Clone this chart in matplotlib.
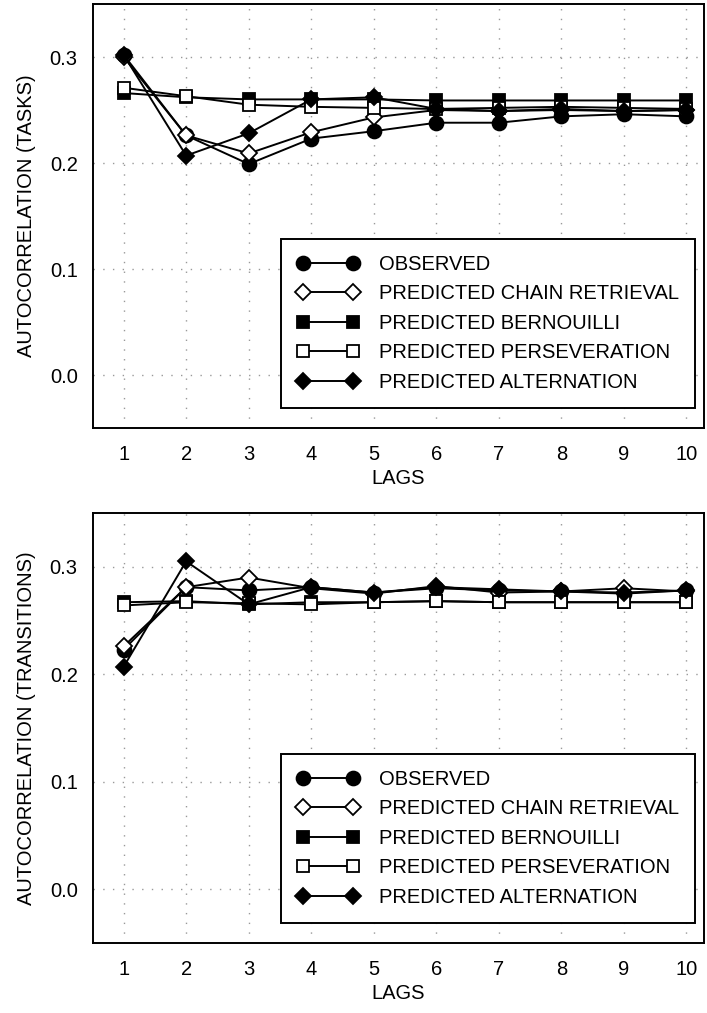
import matplotlib
matplotlib.use("Agg")
import matplotlib.pyplot as plt

plt.rcParams['font.family'] = ['Liberation Sans', 'DejaVu Sans']

lags = [1, 2, 3, 4, 5, 6, 7, 8, 9, 10]
series_names = ["OBSERVED", "PREDICTED CHAIN RETRIEVAL", "PREDICTED BERNOUILLI",
                "PREDICTED PERSEVERATION", "PREDICTED ALTERNATION"]

# Autocorrelation (tasks)
tasks_observed = [0.302, 0.226, 0.199, 0.223, 0.230, 0.238, 0.238, 0.244, 0.246, 0.244]
tasks_chain = [0.300, 0.226, 0.209, 0.229, 0.243, 0.250, 0.249, 0.250, 0.249, 0.250]
tasks_bernoulli = [0.266, 0.262, 0.260, 0.260, 0.260, 0.259, 0.259, 0.259, 0.259, 0.259]
tasks_perseveration = [0.271, 0.263, 0.255, 0.253, 0.252, 0.251, 0.252, 0.253, 0.252, 0.251]
tasks_alternation = [0.302, 0.207, 0.228, 0.260, 0.262, 0.251, 0.249, 0.251, 0.249, 0.250]

# Autocorrelation (transitions)
trans_observed = [0.223, 0.281, 0.278, 0.281, 0.276, 0.280, 0.278, 0.277, 0.275, 0.278]
trans_chain = [0.226, 0.281, 0.290, 0.280, 0.275, 0.282, 0.276, 0.277, 0.280, 0.277]
trans_bernoulli = [0.267, 0.268, 0.265, 0.267, 0.267, 0.268, 0.267, 0.267, 0.267, 0.267]
trans_perseveration = [0.264, 0.267, 0.266, 0.265, 0.267, 0.268, 0.267, 0.267, 0.267, 0.267]
trans_alternation = [0.207, 0.305, 0.265, 0.281, 0.276, 0.281, 0.279, 0.277, 0.276, 0.278]

yticks = [0.0, 0.1, 0.2, 0.3]
ytick_labels = ["0.0", "0.1", "0.2", "0.3"]

styles = [
    dict(marker='o', mfc='black', ms=10),
    dict(marker='D', mfc='white', ms=8),
    dict(marker='s', mfc='black', ms=8),
    dict(marker='s', mfc='white', ms=8),
    dict(marker='D', mfc='black', ms=8),
]

fig = plt.figure(figsize=(7.07, 10.13), dpi=100)
W, H = 707, 1013
left, right = 93, 704
panels = [
    (4, 428, "AUTOCORRELATION (TASKS)",
     [tasks_observed, tasks_chain, tasks_bernoulli, tasks_perseveration, tasks_alternation]),
    (513, 943, "AUTOCORRELATION (TRANSITIONS)",
     [trans_observed, trans_chain, trans_bernoulli, trans_perseveration, trans_alternation]),
]

FS = 14.5
for top, bottom, ylabel, data in panels:
    ax = fig.add_axes([left / W, 1 - bottom / H, (right - left) / W, (bottom - top) / H])
    for i, (name, vals, st) in enumerate(zip(series_names, data, styles)):
        ax.plot(lags, vals, color='black', lw=1.4, marker=st['marker'],
                mfc=st['mfc'], mec='black', mew=1.3, ms=st['ms'],
                label=name, zorder=3 + i, clip_on=False)
    ax.set_xlim(0.51, 10.28)
    ax.set_ylim(-0.05, 0.35)
    ax.set_xticks(lags)
    ax.set_xticklabels([str(l) for l in lags])
    ax.set_yticks(yticks)
    ax.set_yticklabels(ytick_labels)
    ax.tick_params(length=0, labelsize=FS)
    ax.tick_params(axis='x', pad=12)
    ax.tick_params(axis='y', pad=11)
    ax.grid(True, color='#999999', linestyle=(0, (1, 6)), lw=1)
    for sp in ax.spines.values():
        sp.set_linewidth(1.4)
    ax.set_xlabel("LAGS", fontsize=FS, labelpad=4)
    ax.set_ylabel(ylabel, fontsize=FS, labelpad=10)
    ax_h = bottom - top
    leg = ax.legend(loc='lower right', bbox_to_anchor=(0.985, 20 / ax_h), borderaxespad=0,
                    fontsize=FS, numpoints=2, handlelength=3.08,
                    fancybox=False, framealpha=1, edgecolor='black', borderpad=0.8,
                    labelspacing=0.52, handletextpad=0.96)
    leg.get_frame().set_linewidth(1.4)
    leg.set_zorder(10)

fig.savefig("out.png", dpi=100)
